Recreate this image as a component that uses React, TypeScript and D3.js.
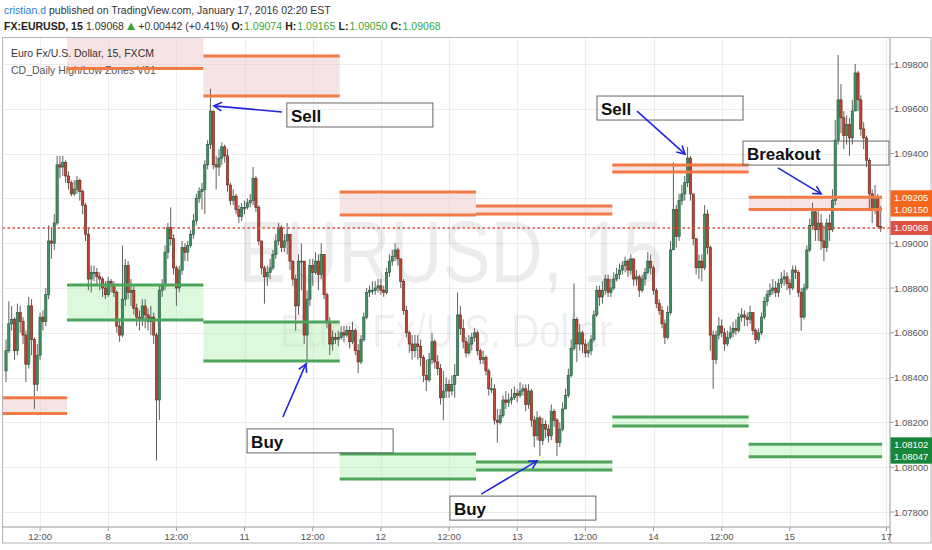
import * as d3 from "d3";

// EUR/USD 30-minute bars, FXCM, Jan 7 06:00 .. Jan 15 16:00 EST (open = previous close)
const firstOpen = 1.0843;

const closes = [
  1.0852, 1.0864, 1.0866, 1.0852, 1.0869, 1.0865, 1.0859, 1.0846, 1.0872, 1.0857, 1.0837, 1.085, 1.0867, 1.0865, 1.0877, 1.0901, 1.09, 1.0909, 1.0935, 1.0934, 1.0936, 1.093,
  1.0927, 1.0922, 1.0924, 1.0928, 1.0923, 1.0917, 1.0904, 1.0884, 1.0887, 1.0887, 1.0885, 1.0884, 1.088, 1.0877, 1.0883, 1.0881, 1.0878, 1.0863, 1.0859, 1.0875, 1.089, 1.0878, 1.0879, 1.0871, 1.0867, 1.0866, 1.0872, 1.0868, 1.0865, 1.0867, 1.0859, 1.083, 1.0879, 1.0881, 1.0896, 1.0907, 1.0902, 1.0889, 1.088, 1.0888, 1.0898, 1.0896, 1.0899, 1.0904, 1.091, 1.092, 1.0923, 1.0924,
  1.0935, 1.0944, 1.0959, 1.0935, 1.0934, 1.0938, 1.0943, 1.0939, 1.0926, 1.0919, 1.0921, 1.0915, 1.0912, 1.0916, 1.0916, 1.0918, 1.0919, 1.0929, 1.0916, 1.0901, 1.0889, 1.0885, 1.0887, 1.0889, 1.0895, 1.0901, 1.0907, 1.0898, 1.0901, 1.0904, 1.0892, 1.0884, 1.0872, 1.0892, 1.0892, 1.0859, 1.0875, 1.089, 1.0887, 1.0892, 1.0886, 1.0895, 1.0877, 1.0865, 1.0855, 1.0858, 1.0857, 1.0858,
  1.086, 1.0859, 1.0861, 1.0856, 1.0861, 1.0852, 1.0847, 1.0857, 1.0867, 1.0878, 1.0879, 1.0879, 1.088, 1.0881, 1.0879, 1.0878, 1.0887, 1.0892, 1.0894, 1.0897, 1.0893, 1.0883, 1.087, 1.086, 1.0855, 1.0852, 1.0855, 1.0854, 1.0849, 1.0841, 1.0839, 1.0848, 1.0856, 1.0847, 1.0844, 1.0831, 1.0834, 1.0837, 1.0834, 1.0837, 1.0841, 1.0868, 1.0862, 1.0856, 1.0851, 1.0855, 1.0858, 1.086,
  1.0852, 1.0848, 1.0849, 1.0843, 1.0835, 1.0835, 1.0821, 1.082, 1.0823, 1.083, 1.0829, 1.083, 1.0831, 1.0833, 1.0832, 1.0834, 1.0835, 1.0828, 1.0834, 1.0821, 1.0814, 1.0822, 1.0812, 1.0819, 1.0817, 1.0814, 1.0825, 1.0821, 1.0811, 1.0817, 1.0826, 1.0832, 1.0841, 1.0853, 1.0866, 1.0855, 1.086, 1.0855, 1.0851, 1.0852, 1.0857, 1.0868, 1.0879, 1.0876, 1.0879, 1.0884, 1.0878, 1.088,
  1.0884, 1.0886, 1.0888, 1.089, 1.0892, 1.0888, 1.0893, 1.0884, 1.0885, 1.0879, 1.0884, 1.0887, 1.0892, 1.0889, 1.0879, 1.0873, 1.087, 1.0864, 1.0858, 1.0869, 1.0897, 1.0915, 1.0903, 1.0919, 1.0922, 1.0927, 1.0938, 1.0922, 1.0902, 1.0889, 1.0892, 1.0889, 1.0913, 1.0898, 1.0859, 1.0848, 1.0859, 1.0863, 1.086, 1.0855, 1.0858, 1.086, 1.0862, 1.0861, 1.0867, 1.0868, 1.0867, 1.0866,
  1.0869, 1.0861, 1.0857, 1.086, 1.0867, 1.0874, 1.0877, 1.0879, 1.088, 1.0878, 1.0882, 1.0884, 1.0885, 1.0882, 1.088, 1.0888, 1.0887, 1.0878, 1.0867, 1.088, 1.0897, 1.0908, 1.0914, 1.0906, 1.0909, 1.0901, 1.0898, 1.0909, 1.0906, 1.0919, 1.0946, 1.0964, 1.0956, 1.0948, 1.0953, 1.0947, 1.0959, 1.0976, 1.0964, 1.0951, 1.0947, 1.0937, 1.0922, 1.0916, 1.092, 1.09074, 1.09068,
];

const highs = [
  1.0857, 1.0874, 1.0872, 1.0867, 1.0873, 1.0872, 1.0867, 1.0861, 1.0876, 1.0875, 1.0858, 1.0855, 1.0869, 1.087, 1.088, 1.0908, 1.0907, 1.0913, 1.0939, 1.0939, 1.0939, 1.0937,
  1.0932, 1.0928, 1.0928, 1.093, 1.0929, 1.0924, 1.0918, 1.0907, 1.089, 1.089, 1.0889, 1.0887, 1.0885, 1.0883, 1.0885, 1.0884, 1.0883, 1.0879, 1.0866, 1.0899, 1.0893, 1.0892, 1.0884, 1.0881, 1.0873, 1.087, 1.0875, 1.0875, 1.0871, 1.0872, 1.0869, 1.086, 1.0881, 1.0884, 1.0899, 1.0909, 1.0916, 1.0904, 1.089, 1.089, 1.0901, 1.09, 1.0901, 1.0906, 1.0913, 1.0922, 1.0925, 1.0927,
  1.0937, 1.0946, 1.0969, 1.0946, 1.0939, 1.0942, 1.0945, 1.0944, 1.0942, 1.0927, 1.0924, 1.0922, 1.0917, 1.0918, 1.0919, 1.092, 1.0922, 1.0934, 1.093, 1.0917, 1.0901, 1.089, 1.089, 1.0893, 1.0897, 1.0904, 1.0909, 1.0908, 1.0904, 1.0909, 1.0904, 1.0892, 1.0886, 1.0895, 1.09, 1.0892, 1.0879, 1.0893, 1.0893, 1.0896, 1.0895, 1.09, 1.0895, 1.0878, 1.0867, 1.0861, 1.086, 1.0861,
  1.0863, 1.0863, 1.0863, 1.0863, 1.0865, 1.0862, 1.0855, 1.0859, 1.0869, 1.088, 1.0881, 1.0883, 1.0883, 1.0884, 1.0884, 1.0881, 1.0889, 1.0895, 1.0897, 1.09, 1.0898, 1.0893, 1.0884, 1.0872, 1.0861, 1.0859, 1.0859, 1.0859, 1.0857, 1.085, 1.0848, 1.0851, 1.086, 1.0857, 1.085, 1.0846, 1.0843, 1.084, 1.0839, 1.0841, 1.0846, 1.0878, 1.0872, 1.0866, 1.0858, 1.0859, 1.086, 1.0862,
  1.0861, 1.0853, 1.0852, 1.085, 1.0844, 1.084, 1.0837, 1.0826, 1.0826, 1.0832, 1.0834, 1.0833, 1.0835, 1.0836, 1.0835, 1.0838, 1.0837, 1.0837, 1.0837, 1.0835, 1.0823, 1.0825, 1.0823, 1.0822, 1.0821, 1.0819, 1.0828, 1.0826, 1.0822, 1.082, 1.0829, 1.0835, 1.0844, 1.0857, 1.0882, 1.0867, 1.0864, 1.0861, 1.0857, 1.0856, 1.0859, 1.087, 1.0881, 1.0881, 1.0883, 1.0886, 1.0886, 1.0884,
  1.0887, 1.0889, 1.0891, 1.0892, 1.0894, 1.0893, 1.0895, 1.0893, 1.0888, 1.0886, 1.0886, 1.0889, 1.0896, 1.0895, 1.089, 1.088, 1.0875, 1.0872, 1.0866, 1.0872, 1.0901, 1.0936, 1.0917, 1.0922, 1.0926, 1.093, 1.0943, 1.0939, 1.0922, 1.0902, 1.0895, 1.0895, 1.0917, 1.0915, 1.0899, 1.0861, 1.0861, 1.0867, 1.0866, 1.0862, 1.0861, 1.0863, 1.0865, 1.0866, 1.0869, 1.0871, 1.087, 1.0869,
  1.0872, 1.0869, 1.0862, 1.0862, 1.0869, 1.0876, 1.0879, 1.0882, 1.0884, 1.0883, 1.0884, 1.0887, 1.0888, 1.0887, 1.0884, 1.089, 1.089, 1.0888, 1.088, 1.0882, 1.0899, 1.0911, 1.0918, 1.0915, 1.0915, 1.0913, 1.0908, 1.0911, 1.0913, 1.0924, 1.0955, 1.0984, 1.0971, 1.0959, 1.0957, 1.0956, 1.0964, 1.098, 1.0977, 1.0966, 1.0954, 1.0948, 1.0938, 1.0924, 1.0926, 1.0922, 1.09165,
];

const lows = [
  1.0838, 1.0851, 1.0861, 1.0848, 1.085, 1.086, 1.0855, 1.0838, 1.0844, 1.085, 1.0826, 1.0834, 1.0848, 1.0861, 1.0863, 1.0875, 1.0893, 1.0897, 1.0908, 1.0929, 1.093, 1.0927,
  1.0924, 1.0921, 1.0921, 1.0922, 1.0919, 1.0913, 1.0901, 1.0879, 1.0878, 1.0883, 1.0881, 1.0879, 1.0876, 1.0875, 1.0876, 1.0878, 1.0876, 1.086, 1.0856, 1.0858, 1.0872, 1.0875, 1.0872, 1.0868, 1.0863, 1.0861, 1.0863, 1.0862, 1.0861, 1.0859, 1.0855, 1.0803, 1.0821, 1.0876, 1.0879, 1.0893, 1.0899, 1.0886, 1.0872, 1.0878, 1.0886, 1.0892, 1.0892, 1.0898, 1.0902, 1.0908, 1.0918, 1.0915,
  1.0913, 1.0933, 1.0942, 1.0933, 1.0924, 1.093, 1.0935, 1.0936, 1.0923, 1.0917, 1.0917, 1.0913, 1.0909, 1.091, 1.0913, 1.0915, 1.0916, 1.0917, 1.0914, 1.0899, 1.0886, 1.0873, 1.0881, 1.0884, 1.0888, 1.0893, 1.0899, 1.0896, 1.0896, 1.0895, 1.0888, 1.0881, 1.0861, 1.0868, 1.0879, 1.0855, 1.0846, 1.0872, 1.0881, 1.0886, 1.0879, 1.0884, 1.0875, 1.0862, 1.085, 1.0852, 1.0855, 1.0854,
  1.0857, 1.0856, 1.0858, 1.0853, 1.0855, 1.085, 1.0842, 1.0846, 1.0856, 1.0866, 1.0876, 1.0877, 1.0877, 1.0878, 1.0877, 1.0876, 1.0877, 1.0885, 1.089, 1.0892, 1.089, 1.088, 1.0868, 1.0858, 1.0851, 1.0848, 1.0849, 1.0848, 1.0845, 1.0838, 1.0834, 1.0838, 1.0846, 1.0844, 1.0841, 1.0828, 1.0821, 1.0831, 1.0831, 1.0832, 1.0831, 1.0848, 1.0859, 1.0853, 1.0849, 1.085, 1.0852, 1.0856,
  1.085, 1.0846, 1.0846, 1.0841, 1.0832, 1.0833, 1.0819, 1.0811, 1.0819, 1.0822, 1.0826, 1.0827, 1.0828, 1.083, 1.0829, 1.0831, 1.0832, 1.0825, 1.0826, 1.0818, 1.0809, 1.0812, 1.0805, 1.081, 1.0813, 1.0811, 1.0812, 1.0818, 1.0805, 1.0809, 1.0816, 1.0826, 1.0831, 1.084, 1.0852, 1.0847, 1.0852, 1.0851, 1.0849, 1.0849, 1.085, 1.0856, 1.0867, 1.0872, 1.0873, 1.0877, 1.0876, 1.0876,
  1.0879, 1.0883, 1.0884, 1.0886, 1.0887, 1.0885, 1.0886, 1.0881, 1.0881, 1.0876, 1.0878, 1.0881, 1.0886, 1.0886, 1.0877, 1.0871, 1.0868, 1.0862, 1.0855, 1.0857, 1.0868, 1.0897, 1.0898, 1.0901, 1.0917, 1.0919, 1.0925, 1.0919, 1.0899, 1.0886, 1.0884, 1.0883, 1.0888, 1.0895, 1.0852, 1.0835, 1.0846, 1.0857, 1.0858, 1.0852, 1.0854, 1.0857, 1.0858, 1.0859, 1.086, 1.0865, 1.0863, 1.0863,
  1.0864, 1.0859, 1.0855, 1.0856, 1.0859, 1.0866, 1.0872, 1.0876, 1.0877, 1.0876, 1.0876, 1.088, 1.0881, 1.0879, 1.0877, 1.0879, 1.0884, 1.0876, 1.0861, 1.0866, 1.0879, 1.0896, 1.0906, 1.0901, 1.0901, 1.0897, 1.0892, 1.0896, 1.0901, 1.0905, 1.0917, 1.0944, 1.0949, 1.0942, 1.0944, 1.0939, 1.0944, 1.0959, 1.0959, 1.0948, 1.0942, 1.0934, 1.0915, 1.0909, 1.0913, 1.0909, 1.0905,
];

// daily sessions (17:00 EST to 17:00 EST), first/last bar index
const sessionStart = [-2, 22, 70, 118, 166, 214, 262];
const sessionEnd = [21, 69, 117, 165, 213, 261, 308];
// "CD_Daily High/Low Zones V01" levels per session
const highZoneTop = [1.0831, 1.1005, 1.09836, 1.09229, 1.09166, 1.09349, 1.09205];
const highZoneBottom = [1.0824, 1.0978, 1.09657, 1.09126, 1.0913, 1.09318, 1.0915];
const lowZoneTop = [null, 1.08813, 1.08648, 1.08059, 1.08023, 1.08224, 1.08102];
const lowZoneBottom = [null, 1.08657, 1.08474, 1.07947, 1.07988, 1.08184, 1.08047];

const lastPrice = 1.09068;

const priceTicks = [1.078, 1.08, 1.082, 1.084, 1.086, 1.088, 1.09, 1.092, 1.094, 1.096, 1.098];
const timeTickBars = [12, 36, 60, 84, 108, 132, 156, 180, 204, 228, 252, 276, 310];
const timeTickLabels = ["12:00", "8", "12:00", "11", "12:00", "12", "12:00", "13", "12:00", "14", "12:00", "15", "17"];

// header quote line: text pieces, bold flag, green flag ("▲" is drawn as a triangle)
const quoteText = ["FX:EURUSD, 15", "1.09068", "▲", "+0.00442 (+0.41%)", "O:", "1.09074", "H:", "1.09165", "L:", "1.09050", "C:", "1.09068"];
const quoteBold = [true, false, false, false, true, false, true, false, true, false, true, false];
const quoteGreen = [false, false, true, false, false, true, false, true, false, true, false, true];

// text boxes with arrows, anchored in bar index / price
const notes = [
  { text: "Sell", bar: 98.9, price: 1.09626, tailBar: 97.2, tailPrice: 1.09586, tipBar: 73.2, tipPrice: 1.09613 },
  { text: "Buy", bar: 84.9, price: 1.08171, tailBar: 97.5, tailPrice: 1.08224, tipBar: 105.6, tipPrice: 1.08461 },
  { text: "Buy", bar: 156.3, price: 1.07871, tailBar: 167.3, tailPrice: 1.0788, tipBar: 187.0, tipPrice: 1.08028 },
  { text: "Sell", bar: 208.1, price: 1.09657, tailBar: 222.2, tailPrice: 1.0959, tipBar: 239.1, tipPrice: 1.09398 },
  { text: "Breakout", bar: 259.5, price: 1.09456, tailBar: 271.8, tailPrice: 1.09336, tipBar: 287.0, tipPrice: 1.0922 },
];

const FONT = "'Liberation Sans', Arial, sans-serif";

let measureCtx: CanvasRenderingContext2D | null = null;
function textWidth(t: string, size: number, bold: boolean) {
  if (!measureCtx) measureCtx = document.createElement("canvas").getContext("2d");
  if (!measureCtx) return t.length * size * 0.55;
  measureCtx.font = `${bold ? "bold " : ""}${size}px 'Liberation Sans', Arial, sans-serif`;
  return measureCtx.measureText(t).width;
}

export default function App() {
  const W = 932;
  const H = 550;
  const left = 2.5;
  const top = 37.5;
  const right = 890;
  const bottom = 527;

  const x = d3.scaleLinear().domain([0, 310]).range([6, 886.4]);
  const y = d3.scaleLinear().domain([1.078, 1.098]).range([512, 64]);
  const barW = 2.3;

  const candles = closes.map((c, i) => {
    const o = i === 0 ? firstOpen : closes[i - 1];
    const hi = Math.max(highs[i], o, c);
    const lo = Math.min(lows[i], o, c);
    return { i, o, c, hi, lo, up: c >= o };
  });

  const zoneBoxes = sessionStart.map((s, k) => ({
    x0: x(s - 0.5),
    x1: x(sessionEnd[k] + 0.5),
    k,
  }));

  const arrowHead = (x1: number, y1: number, x2: number, y2: number) => {
    const a = Math.atan2(y2 - y1, x2 - x1);
    const len = 9;
    const spread = 0.5;
    const p1 = [x2 - len * Math.cos(a - spread), y2 - len * Math.sin(a - spread)];
    const p2 = [x2 - len * Math.cos(a + spread), y2 - len * Math.sin(a + spread)];
    return `M${p1[0]},${p1[1]}L${x2},${y2}L${p2[0]},${p2[1]}`;
  };

  const boxW = 146;
  const boxH = 24;

  const markers = [
    { p: 1.09205, bg: "#f4661b" },
    { p: 1.0915, bg: "#f4661b" },
    { p: lastPrice, bg: "#dd5145" },
    { p: 1.08102, bg: "#17853a" },
    { p: 1.08047, bg: "#17853a" },
  ];
  // axis labels completely hidden under a marker are not drawn
  const axisTicks = priceTicks.filter((p) => markers.every((m) => Math.abs(y(m.p) - y(p)) > 8));

  // sequential layout of the header quote line
  const qSize = 10.5;
  const gap = 3.2;
  let cursor = 4;
  const quoteLayout = quoteText.map((t, k) => {
    const w = t === "▲" ? 8 : textWidth(t, qSize, quoteBold[k]);
    const item = { t, x: cursor, w, k };
    const tight = quoteText[k] === "O:" || quoteText[k] === "H:" || quoteText[k] === "L:" || quoteText[k] === "C:";
    cursor += w + (tight ? 1 : gap);
    return item;
  });
  const line1Size = 10.5;
  const nameW = textWidth("cristian.d", line1Size, false);

  return (
    <svg
      width={W}
      height={H}
      style={{ position: "absolute", left: 0, top: 0, background: "#fff" }}
      fontFamily={FONT}
    >
      <defs>
        <clipPath id="pane">
          <rect x={left} y={top} width={right - left} height={bottom - top} />
        </clipPath>
      </defs>
      <rect x={0} y={0} width={W} height={H} fill="#fff" />

      {/* header */}
      <text x={4} y={14} fontSize={line1Size} fill="#2a7fd4">cristian.d</text>
      <text x={4 + nameW + 3} y={14} fontSize={line1Size} fill="#333">
        published on TradingView.com, January 17, 2016 02:20 EST
      </text>
      {quoteLayout.map(({ t, x: qx, w, k }) =>
        t === "▲" ? (
          <path key={`q${k}`} d={`M${qx},30L${qx + w / 2},22.5L${qx + w},30Z`} fill="#3aa63a" />
        ) : (
          <text
            key={`q${k}`}
            x={qx}
            y={30}
            fontSize={qSize}
            fontWeight={quoteBold[k] ? "bold" : "normal"}
            fill={quoteGreen[k] ? "#3aa63a" : quoteBold[k] ? "#222" : "#333"}
          >
            {t}
          </text>
        )
      )}

      {/* grid */}
      <g stroke="#ececec" strokeWidth={1}>
        {priceTicks.map((p) => (
          <line key={p} x1={left} x2={right} y1={Math.round(y(p)) + 0.5} y2={Math.round(y(p)) + 0.5} />
        ))}
        {timeTickBars.map((b) => (
          <line key={b} x1={Math.round(x(b)) + 0.5} x2={Math.round(x(b)) + 0.5} y1={top} y2={bottom} />
        ))}
      </g>

      {/* watermark */}
      <g fill="#000" fillOpacity={0.075} fontFamily="Arial, 'Liberation Sans', sans-serif">
        <text x={238} y={282} fontSize={88} textLength={425} lengthAdjust="spacingAndGlyphs">EURUSD, 15</text>
        <text x={280} y={347} fontSize={46} textLength={332} lengthAdjust="spacingAndGlyphs">Euro Fx/U.S. Dollar</text>
      </g>

      <g clipPath="url(#pane)">
        {/* zone fills */}
        {zoneBoxes.map(({ x0, x1, k }) => (
          <g key={`zf${k}`}>
            <rect
              x={x0}
              width={x1 - x0}
              y={y(highZoneTop[k])}
              height={y(highZoneBottom[k]) - y(highZoneTop[k])}
              fill="#e9bdbd"
              fillOpacity={0.42}
            />
            {lowZoneTop[k] !== null && (
              <rect
                x={x0}
                width={x1 - x0}
                y={y(lowZoneTop[k] as number)}
                height={y(lowZoneBottom[k] as number) - y(lowZoneTop[k] as number)}
                fill="#a6f0a6"
                fillOpacity={0.38}
              />
            )}
          </g>
        ))}

        {/* legend */}
        <g fontSize={10.5}>
          <text x={11} y={57} fill="#333">Euro Fx/U.S. Dollar, 15, FXCM</text>
          <text x={11} y={74} fill="#555">CD_Daily High/Low Zones V01</text>
        </g>

        {/* candles */}
        {candles.map((d) => (
          <line
            key={`w${d.i}`}
            x1={x(d.i)}
            x2={x(d.i)}
            y1={y(d.hi)}
            y2={y(d.lo)}
            stroke="#5f5f5f"
            strokeWidth={1}
          />
        ))}
        {candles.map((d) => {
          const y0 = y(Math.max(d.o, d.c));
          const h = Math.max(1, Math.abs(y(d.o) - y(d.c)));
          return (
            <rect
              key={`b${d.i}`}
              x={x(d.i) - barW / 2}
              y={y0}
              width={barW}
              height={h}
              fill={d.up ? "#3f9265" : "#bd452f"}
              stroke={d.up ? "#24573b" : "#6a2518"}
              strokeWidth={0.6}
            />
          );
        })}

        {/* zone lines */}
        {zoneBoxes.map(({ x0, x1, k }) => (
          <g key={`zl${k}`} strokeWidth={3}>
            <line x1={x0} x2={x1} y1={y(highZoneTop[k])} y2={y(highZoneTop[k])} stroke="#f27a45" />
            <line x1={x0} x2={x1} y1={y(highZoneBottom[k])} y2={y(highZoneBottom[k])} stroke="#f27a45" />
            {lowZoneTop[k] !== null && (
              <>
                <line x1={x0} x2={x1} y1={y(lowZoneTop[k] as number)} y2={y(lowZoneTop[k] as number)} stroke="#4ca55a" />
                <line x1={x0} x2={x1} y1={y(lowZoneBottom[k] as number)} y2={y(lowZoneBottom[k] as number)} stroke="#4ca55a" />
              </>
            )}
          </g>
        ))}

        {/* last price line */}
        <line
          x1={left}
          x2={right}
          y1={y(lastPrice)}
          y2={y(lastPrice)}
          stroke="#e0533f"
          strokeWidth={1.5}
          strokeDasharray="2.5,2.5"
        />

        {/* annotations */}
        {notes.map((n, k) => {
          const bx = x(n.bar);
          const by = y(n.price);
          const tx = x(n.tailBar);
          const ty = y(n.tailPrice);
          const px = x(n.tipBar);
          const py = y(n.tipPrice);
          return (
            <g key={`n${k}`}>
              <rect x={bx} y={by} width={boxW} height={boxH} fill="none" stroke="#666" strokeWidth={1} />
              <text x={bx + 4} y={by + 19} fontSize={17} fontWeight="bold" fill="#111">
                {n.text}
              </text>
              <line x1={tx} y1={ty} x2={px} y2={py} stroke="#2424df" strokeWidth={1.6} />
              <path d={arrowHead(tx, ty, px, py)} fill="none" stroke="#2424df" strokeWidth={1.6} />
            </g>
          );
        })}
      </g>

      {/* frame */}
      <rect x={left} y={top} width={W - 1 - left} height={543 - top} fill="none" stroke="#b4b4b4" />
      <line x1={right} x2={right} y1={top} y2={543} stroke="#9a9a9a" />
      <line x1={left} x2={right} y1={bottom} y2={bottom} stroke="#9a9a9a" />

      {/* price axis */}
      <g fontSize={9.5} fill="#555">
        {axisTicks.map((p) => (
          <g key={`pt${p}`}>
            <line x1={right} x2={right + 4} y1={y(p)} y2={y(p)} stroke="#9a9a9a" />
            <text x={894} y={y(p) + 3.5}>
              {d3.format(".5f")(p)}
            </text>
          </g>
        ))}
      </g>
      {markers.map((m) => (
        <g key={`m${m.p}`}>
          <rect x={right + 0.5} y={y(m.p) - 7} width={W - right} height={14} fill={m.bg} />
          <text x={894} y={y(m.p) + 3.5} fontSize={9.5} fill="#fff">
            {d3.format(".5f")(m.p)}
          </text>
        </g>
      ))}

      {/* time axis */}
      <g fontSize={9.5} fill="#555">
        {timeTickBars.map((b, k) => (
          <g key={`tt${b}`}>
            <line x1={x(b)} x2={x(b)} y1={bottom} y2={bottom + 4} stroke="#9a9a9a" />
            <text x={x(b)} y={539.5} textAnchor="middle">
              {timeTickLabels[k]}
            </text>
          </g>
        ))}
      </g>
    </svg>
  );
}
